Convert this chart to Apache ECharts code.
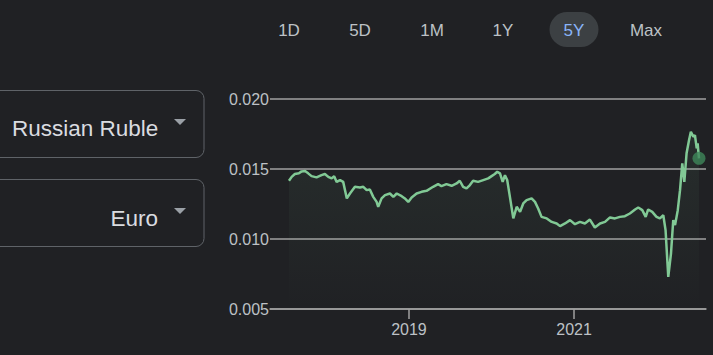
<!DOCTYPE html>
<html>
<head>
<meta charset="utf-8">
<script src="https://cdn.jsdelivr.net/npm/echarts@6/dist/echarts.min.js"></script>
<style>
html,body{margin:0;padding:0;background:#202124;}
#chart{width:713px;height:355px;}
</style>
</head>
<body>
<div id="chart"></div>
<script>
// ---- data ----
const rangeButtons = ['1D', '5D', '1M', '1Y', '5Y', 'Max'];
const activeRange = '5Y';
const fromCurrency = 'Russian Ruble';
const toCurrency = 'Euro';
const yTicks = [0.005, 0.010, 0.015, 0.020];
const xTickLabels = ['2019', '2021'];
const dates = [
  '2017-07-19','2017-07-31','2017-08-14','2017-09-01','2017-09-13','2017-09-28','2017-10-12','2017-10-27',
  '2017-11-18','2017-12-10','2017-12-25','2018-01-09','2018-01-24','2018-02-04','2018-02-15','2018-03-02',
  '2018-03-16','2018-04-01','2018-04-15','2018-05-07','2018-05-29','2018-06-13','2018-06-28','2018-07-12',
  '2018-07-27','2018-08-11','2018-08-18','2018-09-02','2018-09-17','2018-10-09','2018-10-24','2018-11-08',
  '2018-11-30','2018-12-14','2018-12-29','2019-01-13','2019-02-04','2019-02-26','2019-03-20','2019-04-18',
  '2019-05-10','2019-05-25','2019-06-16','2019-07-09','2019-07-31','2019-08-14','2019-08-29','2019-09-13',
  '2019-09-28','2019-10-12','2019-11-03','2019-11-26','2019-12-18','2020-01-02','2020-01-16','2020-01-27',
  '2020-02-08','2020-02-20','2020-03-01','2020-03-11','2020-03-23','2020-04-07','2020-04-22','2020-05-07',
  '2020-05-21','2020-06-05','2020-06-27','2020-07-12','2020-07-26','2020-08-10','2020-09-02','2020-09-24',
  '2020-10-16','2020-10-31','2020-11-22','2020-12-14','2021-01-05','2021-01-27','2021-02-18','2021-03-12',
  '2021-04-03','2021-04-26','2021-05-18','2021-06-09','2021-07-01','2021-07-23','2021-08-14','2021-09-05',
  '2021-09-28','2021-10-12','2021-10-30','2021-11-14','2021-11-25','2021-12-13','2022-01-01','2022-01-16',
  '2022-01-31','2022-02-10','2022-02-22','2022-03-06','2022-03-16','2022-03-24','2022-04-05','2022-04-15',
  '2022-04-25','2022-05-04','2022-05-14','2022-05-25','2022-06-02','2022-06-13','2022-06-20','2022-06-28',
  '2022-07-02','2022-07-08'
];
const rates = [
  0.01416,0.01444,0.01464,0.01469,0.01483,0.01485,0.01469,0.01449,
  0.01440,0.01456,0.01464,0.01444,0.01433,0.01449,0.01408,0.01421,
  0.01408,0.01290,0.01325,0.01373,0.01368,0.01373,0.01349,0.01354,
  0.01301,0.01265,0.01230,0.01290,0.01313,0.01325,0.01301,0.01325,
  0.01306,0.01290,0.01265,0.01297,0.01325,0.01337,0.01344,0.01373,
  0.01392,0.01378,0.01392,0.01380,0.01397,0.01416,0.01373,0.01361,
  0.01385,0.01416,0.01408,0.01421,0.01433,0.01449,0.01464,0.01480,
  0.01469,0.01408,0.01456,0.01421,0.01301,0.01147,0.01230,0.01194,
  0.01254,0.01278,0.01290,0.01265,0.01218,0.01158,0.01147,0.01122,
  0.01111,0.01092,0.01111,0.01135,0.01106,0.01122,0.01111,0.01139,
  0.01082,0.01111,0.01122,0.01154,0.01147,0.01158,0.01163,0.01182,
  0.01211,0.01225,0.01206,0.01158,0.01211,0.01194,0.01158,0.01147,
  0.01170,0.01063,0.00729,0.00896,0.01135,0.01099,0.01206,0.01349,
  0.01540,0.01408,0.01612,0.01707,0.01766,0.01730,0.01742,0.01647,
  0.01683,0.01576
];
const xMin = '2017-04-26';
const xMax = '2022-08-08';

// ---- chart ----
const toTs = s => { const p = s.split('-').map(Number); return new Date(p[0], p[1] - 1, p[2]).getTime(); };
const chart = echarts.init(document.getElementById('chart'), null, {renderer: 'svg'});
const grey = '#a0a0a0';
const labelGrey = '#bdc1c6';
const seriesData = dates.map((d, i) => [toTs(d), rates[i]]);
const last = seriesData[seriesData.length - 1];
const tickValues = xTickLabels.map(y => new Date(Number(y), 0, 1).getTime());

const btnX = [289, 360, 432, 503, 574, 646];
const graphics = [];
rangeButtons.forEach((b, i) => {
  if (b === activeRange) {
    graphics.push({type: 'rect', shape: {x: btnX[i] - 24.5, y: 12, width: 49, height: 35, r: 17.5},
      style: {fill: '#3c4043'}, z: 1});
  }
  graphics.push({type: 'text', x: btnX[i], y: 30, z: 2,
    style: {text: b, fill: b === activeRange ? '#8ab4f8' : labelGrey, font: '17px "Liberation Sans", Arial, sans-serif',
      align: 'center', verticalAlign: 'middle'}});
});
// currency boxes
[[90, fromCurrency, 128, 122], [179, toCurrency, 218, 211]].forEach(([top, label, ty, triY], i) => {
  graphics.push({type: 'rect', shape: {x: -12, y: top + 0.5, width: 216, height: 67, r: 8},
    style: {fill: 'none', stroke: '#5f6368', lineWidth: 1}});
  graphics.push({type: 'text', x: i === 0 ? 12 : 158, y: ty,
    style: {text: label, fill: '#dadce0', font: '22.5px "Liberation Sans", Arial, sans-serif',
      align: i === 0 ? 'left' : 'right', verticalAlign: 'middle'}});
  graphics.push({type: 'polygon', shape: {points: [[174, triY - 3], [186, triY - 3], [180, triY + 3]]},
    style: {fill: '#9aa0a6'}});
});

chart.setOption({
  backgroundColor: '#202124',
  animation: false,
  grid: {left: 270, right: 7, top: 99, bottom: 46},
  xAxis: {
    type: 'value', min: toTs(xMin), max: toTs(xMax),
    axisLine: {show: true, lineStyle: {color: grey, width: 1.5}},
    axisTick: {show: true, customValues: tickValues, length: 10, lineStyle: {color: grey, width: 1.5}},
    axisLabel: {customValues: tickValues, margin: 12, color: labelGrey,
      fontSize: 16, fontFamily: '"Liberation Sans", Arial, sans-serif',
      formatter: v => String(new Date(v).getFullYear())},
    splitLine: {show: false}
  },
  yAxis: {
    type: 'value', min: yTicks[0], max: yTicks[yTicks.length - 1], interval: 0.005,
    axisLine: {show: false}, axisTick: {show: false},
    axisLabel: {margin: 1, color: labelGrey, fontSize: 16, fontFamily: '"Liberation Sans", Arial, sans-serif',
      formatter: v => v.toFixed(3)},
    splitLine: {show: true, lineStyle: {color: grey, width: 1.5}}
  },
  series: [
    {type: 'line', data: seriesData, showSymbol: false, symbol: 'none',
     lineStyle: {color: '#81c995', width: 2.5}, z: 3,
     areaStyle: {color: new echarts.graphic.LinearGradient(0, 0, 0, 1, [
       {offset: 0, color: 'rgba(129,201,149,0.11)'},
       {offset: 1, color: 'rgba(129,201,149,0.0)'}])}},
    {type: 'scatter', data: [last], symbol: 'circle', symbolSize: 13, z: 4,
     itemStyle: {color: '#3e875a'}}
  ],
  graphic: graphics
});
</script>
</body>
</html>
